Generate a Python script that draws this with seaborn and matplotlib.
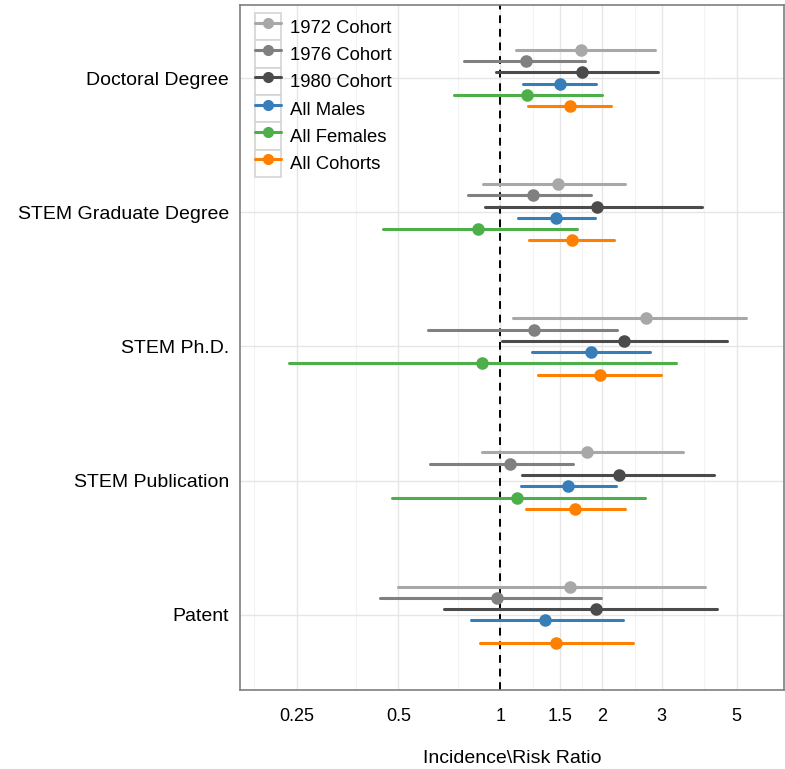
import numpy as np
import pandas as pd
import seaborn as sns
import matplotlib.pyplot as plt
from matplotlib.lines import Line2D
from matplotlib.patches import Rectangle
from matplotlib.legend_handler import HandlerLine2D
from matplotlib.ticker import FixedLocator, NullFormatter

outcomes = ['Doctoral Degree', 'STEM Graduate Degree', 'STEM Ph.D.', 'STEM Publication', 'Patent']
groups = ['1972 Cohort', '1976 Cohort', '1980 Cohort', 'All Males', 'All Females', 'All Cohorts']
colors = ['#a8a8a8', '#808080', '#4b4b4b', '#377eb8', '#4daf4a', '#ff7f00']

# ratio estimates and 95% bounds, one list per group, in outcome order
# (nan = not reported)
est = {
    '1972 Cohort': [1.73, 1.48, 2.69, 1.81, 1.61],
    '1976 Cohort': [1.19, 1.25, 1.26, 1.07, 0.98],
    '1980 Cohort': [1.74, 1.93, 2.32, 2.25, 1.92],
    'All Males':   [1.50, 1.46, 1.85, 1.59, 1.36],
    'All Females': [1.20, 0.86, 0.88, 1.12, np.nan],
    'All Cohorts': [1.61, 1.63, 1.97, 1.66, 1.46],
}
lower = {
    '1972 Cohort': [1.11, 0.89, 1.09, 0.88, 0.50],
    '1976 Cohort': [0.78, 0.80, 0.61, 0.62, 0.44],
    '1980 Cohort': [0.97, 0.90, 1.01, 1.16, 0.68],
    'All Males':   [1.17, 1.13, 1.24, 1.155, 0.82],
    'All Females': [0.73, 0.45, 0.237, 0.48, np.nan],
    'All Cohorts': [1.21, 1.22, 1.29, 1.19, 0.87],
}
upper = {
    '1972 Cohort': [2.87, 2.34, 5.31, 3.46, 4.04],
    '1976 Cohort': [1.78, 1.85, 2.22, 1.64, 1.98],
    '1980 Cohort': [2.92, 3.95, 4.67, 4.28, 4.38],
    'All Males':   [1.92, 1.91, 2.78, 2.20, 2.30],
    'All Females': [2.00, 1.69, 3.30, 2.68, np.nan],
    'All Cohorts': [2.12, 2.17, 2.99, 2.34, 2.47],
}

major_ticks = [0.25, 0.5, 1, 1.5, 2, 3, 5]
minor_ticks = [0.1875, 0.375, 0.75, 1.25, 1.75, 2.5, 4]

# long format: lower / estimate / upper as three rows -> median + full range
rows = []
for g in groups:
    for i, o in enumerate(outcomes):
        if np.isnan(est[g][i]):
            continue
        for v in (lower[g][i], est[g][i], upper[g][i]):
            rows.append({'outcome': o, 'group': g, 'ratio': v})
df = pd.DataFrame(rows)

sns.set_style('white')
plt.rcParams['font.family'] = ['Liberation Sans', 'DejaVu Sans']
plt.rcParams['text.color'] = 'black'
plt.rcParams['axes.labelcolor'] = 'black'

fig = plt.figure(figsize=(7.85, 7.69), dpi=100)
ax = fig.add_axes([240 / 785, 1 - 690 / 769, 544 / 785, 685 / 769])
ax.set_xscale('log')

ax.axvline(1, color='black', ls=(0, (4, 3)), lw=1.4, zorder=1.5)

sns.pointplot(data=df, x='ratio', y='outcome', hue='group',
              order=outcomes, hue_order=groups, palette=colors,
              estimator='median', errorbar=('pi', 100),
              dodge=0.42, linestyle='none', markersize=7,
              err_kws={'linewidth': 2.2}, legend=False, ax=ax)

ax.set_xlim(0.17, 6.9)
ax.set_ylim(4.56, -0.545)
ax.xaxis.set_major_locator(FixedLocator(major_ticks))
ax.xaxis.set_minor_locator(FixedLocator(minor_ticks))
ax.xaxis.set_minor_formatter(NullFormatter())
ax.set_xticklabels(['0.25', '0.5', '1', '1.5', '2', '3', '5'])

ax.grid(True, which='major', color='#e6e6e6', lw=1, zorder=0)
ax.grid(True, which='minor', axis='x', color='#f3f3f3', lw=0.8, zorder=0)
ax.set_axisbelow(True)

for s in ax.spines.values():
    s.set_color('#7f7f7f')
    s.set_linewidth(1.2)

ax.tick_params(axis='x', which='major', length=5, color='#7f7f7f',
               labelsize=13, pad=8, labelcolor='black')
ax.tick_params(axis='x', which='minor', length=0)
ax.tick_params(axis='y', length=0, labelsize=14, pad=8, labelcolor='black')
ax.set_xlabel('Incidence\\Risk Ratio', fontsize=14, labelpad=18)
ax.set_ylabel('')


class BoxedKey(HandlerLine2D):
    def create_artists(self, legend, orig_handle, xdescent, ydescent,
                       width, height, fontsize, trans):
        box = Rectangle((-xdescent, -ydescent), width, height,
                        facecolor='white', edgecolor='#d4d4d4', lw=1.2,
                        transform=trans)
        arts = super().create_artists(legend, orig_handle, xdescent, ydescent,
                                      width, height, fontsize, trans)
        return [box] + arts


handles = [Line2D([], [], color=c, lw=2.2, marker='o', markersize=7)
           for c in colors]
ax.legend(handles, groups, loc='upper left',
          bbox_to_anchor=(15 / 544, 1 - 8 / 685),
          frameon=False, fontsize=13.3, handlelength=1.4, handleheight=1.9,
          labelspacing=0, handletextpad=0.5, borderaxespad=0,
          borderpad=0,
          handler_map={Line2D: BoxedKey(numpoints=1)})

fig.savefig('out.png', dpi=100)
